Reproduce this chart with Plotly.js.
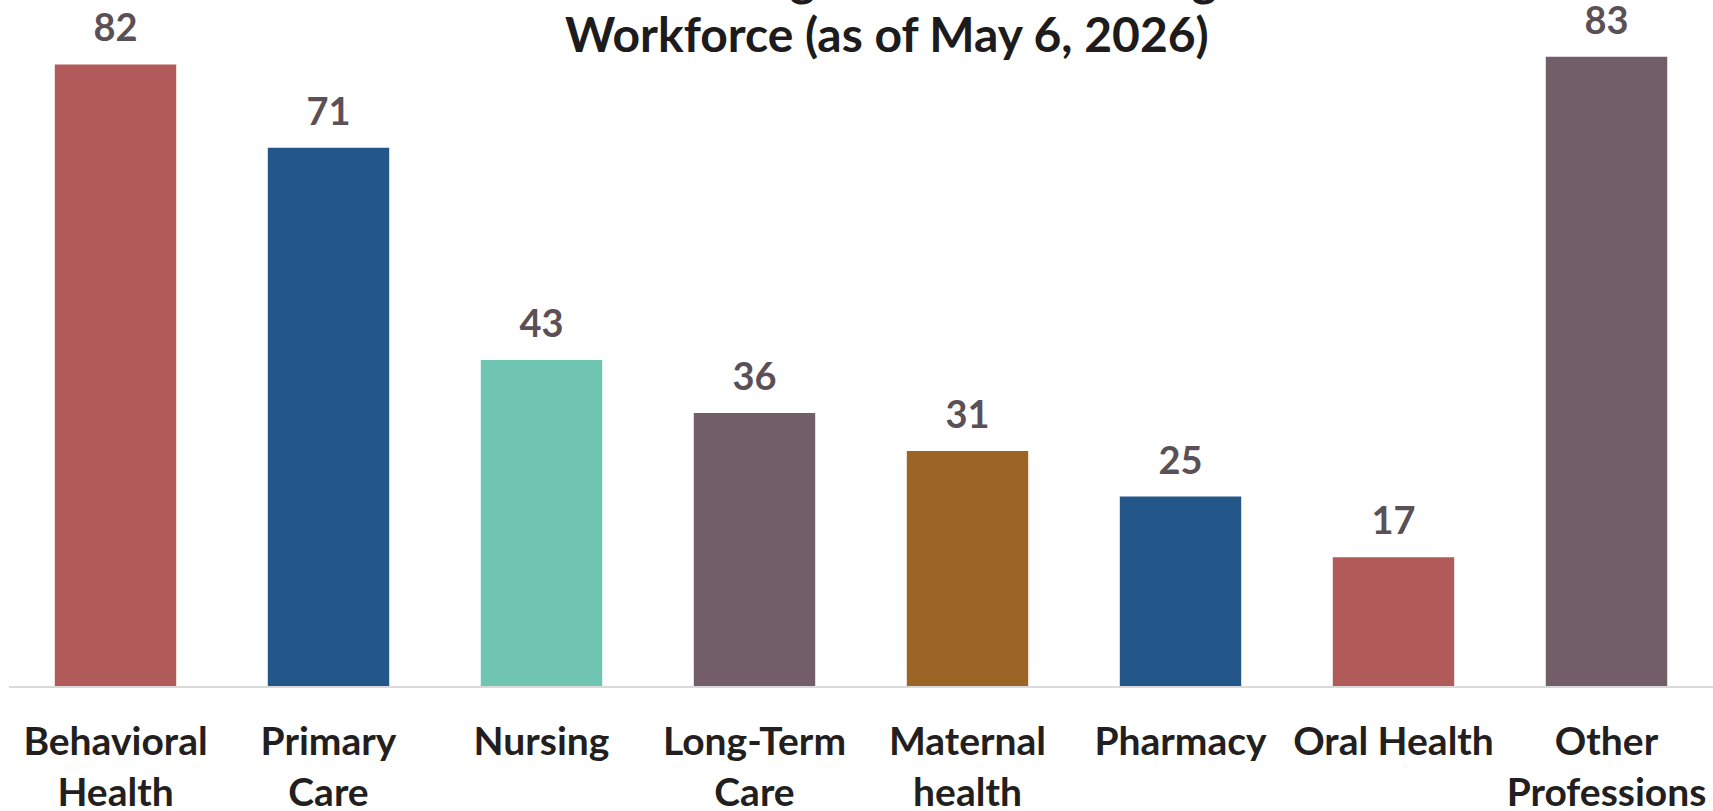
<!DOCTYPE html>
<html>
<head>
<meta charset="utf-8">
<script src="https://cdn.plot.ly/plotly-3.0.1.min.js"></script>
<style>html,body{margin:0;padding:0;background:#fff;overflow:hidden}#chart{width:1713px;height:811px}</style>
</head>
<body>
<div id="chart"></div>
<script>
const categories = ["Behavioral<br>Health", "Primary<br>Care", "Nursing", "Long-Term<br>Care", "Maternal<br>health", "Pharmacy", "Oral Health", "Other<br>Professions"];
const values = [82, 71, 43, 36, 31, 25, 17, 83];
const barColors = ["#B15A5A", "#23578A", "#70C4B2", "#715E68", "#9C6425", "#23578A", "#B15A5A", "#715E68"];
const titleLines = ["Health Care Legislation Addressing the", "Workforce (as of May 6, 2026)"];

const FONT = "Lato, 'Open Sans', sans-serif";

const bars = {
  type: "bar",
  x: categories,
  y: values,
  marker: {color: barColors},
  hoverinfo: "skip",
  showlegend: false
};

const labels = {
  type: "scatter",
  mode: "markers+text",
  x: categories,
  y: values,
  text: values.map(String),
  textposition: "top center",
  textfont: {family: FONT, size: 38, color: "#5B5056", weight: 700},
  marker: {size: 20, opacity: 0, color: "#fff"},
  cliponaxis: false,
  hoverinfo: "skip",
  showlegend: false
};

const titleFont = {family: FONT, size: 48, color: "#1E1B1C", weight: 700};

const layout = {
  width: 1713,
  height: 811,
  margin: {l: 9, r: 0, t: 0, b: 125},
  paper_bgcolor: "#ffffff",
  plot_bgcolor: "#ffffff",
  bargap: 0.43,
  showlegend: false,
  font: {family: FONT},
  xaxis: {
    showline: true,
    linecolor: "#D9D9D9",
    linewidth: 2,
    ticks: "",
    showgrid: false,
    zeroline: false,
    tickfont: {family: FONT, size: 39, color: "#231F20", weight: 700},
    ticklabelstandoff: 20,
    fixedrange: true
  },
  yaxis: {
    range: [0, 90.5],
    visible: false,
    showgrid: false,
    zeroline: false,
    fixedrange: true
  },
  annotations: [{
    text: titleLines[1],
    xref: "paper", yref: "paper",
    x: 0.515, y: 0.907,
    xanchor: "center", yanchor: "bottom",
    showarrow: false,
    font: titleFont
  }, {
    text: titleLines[0],
    xref: "paper", yref: "paper",
    x: 0.515, y: 0.988,
    xanchor: "center", yanchor: "bottom",
    showarrow: false,
    font: titleFont
  }]
};

Plotly.newPlot("chart", [bars, labels], layout, {displayModeBar: false, staticPlot: true});
</script>
</body>
</html>
